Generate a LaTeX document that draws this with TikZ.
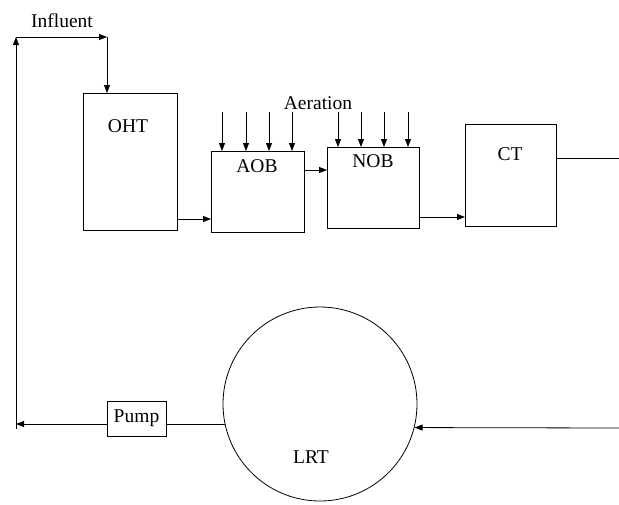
\documentclass[tikz,border=0pt]{standalone}
\usepackage{fontspec}
\setmainfont{Liberation Serif}
\usetikzlibrary{arrows.meta, positioning, shapes}

\begin{document}
\begin{tikzpicture}[x=1pt, y=-1pt,
    font=\fontsize{19.5}{22}\selectfont,
    line width=0.8pt,
    >={Triangle[length=8pt, width=6pt]},
    tank/.style={draw, rectangle, inner sep=0pt, anchor=north west}]
  \useasboundingbox (0,0) rectangle (619,504);

  % tanks
  \node[tank, minimum width=94pt, minimum height=137pt] (oht) at (83,93) {};
  \node[tank, minimum width=93pt, minimum height=81pt] (aob) at (211,151) {};
  \node[tank, minimum width=92pt, minimum height=81pt] (nob) at (327,147) {};
  \node[tank, minimum width=91pt, minimum height=102pt] (ct) at (465,124) {};
  \node[draw, circle, minimum size=194pt, inner sep=0pt] (lrt) at (320,404) {};
  \node[draw, rectangle, inner sep=0pt, minimum width=59pt, minimum height=35pt] (pump) at (136.5,418.5) {Pump};

  % labels
  \node (ohtlabel) at (128,126) {OHT};
  \node (aoblabel) at (257,166) {AOB};
  \node (noblabel) at (373,161) {NOB};
  \node (ctlabel) at (510,154) {CT};
  \node (lrtlabel) at (311,457) {LRT};
  \node (influent) at (62,21) {Influent};
  \node (aeration) at (318,103) {Aeration};

  % aeration
  \foreach \x in {222,246,269,292}
    \draw[->] (\x,112) -- ({\x},0 |- aob.north);
  \foreach \x in {338,361,384,408}
    \draw[->] (\x,112) -- ({\x},0 |- nob.north);

  % main line
  \draw[->] (oht.east |- 0,219) -- (aob.west |- 0,219);
  \draw[->] (aob.east |- 0,170) -- (nob.west |- 0,170);
  \draw[->] (nob.east |- 0,217) -- (ct.west |- 0,217);
  \coordinate (effluent) at (619,158);
  \draw (ct.east |- effluent) -- (effluent);

  % recycle
  \coordinate (inflow) at (619,428);
  \draw[->] (inflow) -- (lrt.-14);
  \draw (lrt.192) -- (pump.east |- lrt.192);
  \coordinate (back) at (16,424);
  \draw[->] (pump.west |- back) -- (back);
  \coordinate (bottomleft) at (16,429);
  \coordinate (topleft) at (16,37);
  \coordinate (topturn) at (107,37);
  \draw[->] (bottomleft) -- (topleft);
  \draw[->] (topleft) -- (topturn);
  \draw[->] (topturn) -- (topturn |- oht.north);
\end{tikzpicture}
\end{document}
